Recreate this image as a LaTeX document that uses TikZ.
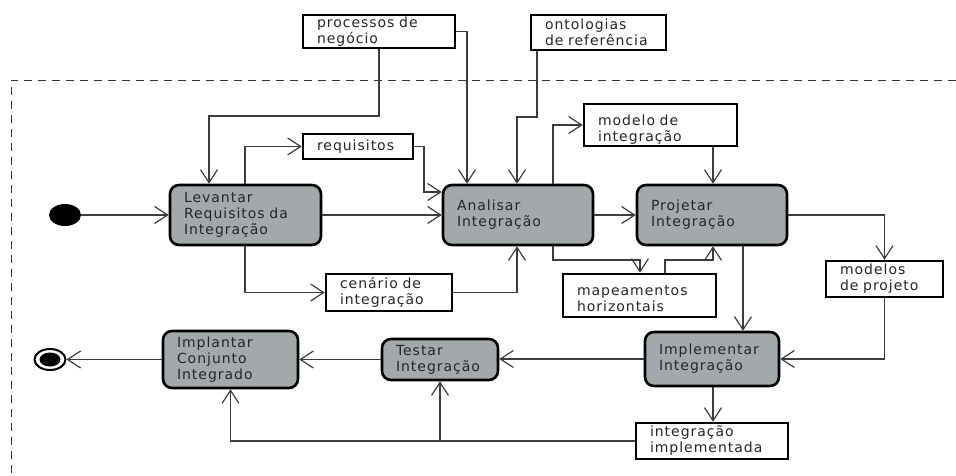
\documentclass[tikz,border=0pt]{standalone}
\usepackage{fontspec}
\setmainfont[LetterSpace=7]{DejaVu Sans}
\usetikzlibrary{arrows.meta,shapes.geometric}
\definecolor{actgrey}{RGB}{163,169,171}
\definecolor{wire}{RGB}{60,60,60}
\begin{document}
\begin{tikzpicture}[x=1pt,y=-1pt,
  font=\fontsize{14}{16}\selectfont,
  base/.style={line width=2.6pt, draw=black, inner xsep=14pt, inner ysep=0pt,
               align=left, text=black!85},
  act/.style={base, fill=actgrey, rounded corners=9pt},
  obj/.style={base, fill=white},
  raised/.style={text depth=10pt},
  flow/.style={draw=wire, line width=1.2pt,
               -{Straight Barb[length=13pt,width=17pt]}},
  frame/.style={draw=black!80, line width=1pt, dash pattern=on 8pt off 6pt}]

\useasboundingbox (0,0) rectangle (956,475);

% activity region
\draw[frame] (956,80) -- (11,80) -- (11,480);

% initial and final states
\node[ellipse, fill=black, minimum width=32pt, minimum height=22pt, inner sep=0pt] (start) at (65,215) {};
\node[ellipse, draw=black, line width=2pt, fill=white, minimum width=31pt, minimum height=21pt, inner sep=0pt] (stop) at (50,359.5) {};
\fill[black] (stop.center) ellipse (10.5pt and 7pt);

% object nodes
\node[obj, text width=124pt, minimum height=33pt] (proc) at (379,31.5) {processos de\\negócio};
\node[obj, text width=107pt, minimum height=35pt] (onto) at (598.5,32.5) {ontologias\\de referência};
\node[obj, text width=82pt, minimum height=25pt] (req) at (358,146.5) {requisitos};
\node[obj, raised, text width=125pt, minimum height=42pt] (mod) at (660.5,125) {modelo de\\integração};
\node[obj, text width=98pt, minimum height=37pt] (cen) at (389,292.5) {cenário de\\integração};
\node[obj, raised, text width=125pt, minimum height=43pt] (map) at (639.5,295.5) {mapeamentos\\horizontais};
\node[obj, text width=89pt, minimum height=36pt] (mods) at (884.5,279) {modelos\\de projeto};
\node[obj, text width=124pt, minimum height=36pt] (intimp) at (712,441) {integração\\implementada};

% activity nodes
\node[act, text width=123pt, minimum height=60pt] (lev) at (245.5,215) {Levantar\\Requisitos da\\Integração};
\node[act, text width=122pt, minimum height=60pt] (ana) at (518,215) {Analisar\\Integração};
\node[act, text width=122pt, minimum height=60pt] (proj) at (712,215) {Projetar\\Integração};
\node[act, text width=106pt, minimum height=54pt] (impl) at (712,359) {Implementar\\Integração};
\node[act, text width=88pt, minimum height=41pt] (test) at (440,359.5) {Testar\\Integração};
\node[act, text width=107pt, minimum height=57pt] (impt) at (230.5,359.5) {Implantar\\Conjunto\\Integrado};

% flows
\draw[flow] (start.east) -- (lev.west);
\draw[flow] (proc.south) |- (209,116) -- (209,0 |- lev.north);
\draw[flow] (proc.east) -| (467,0 |- ana.north);
\draw[flow] (245,0 |- lev.north) |- (req.west);
\draw[flow] (req.east) -| (424,192) -- (ana.west |- 0,192);
\draw[flow] (lev.east) -- (ana.west);
\draw[flow] (537,0 |- onto.south) |- (517,117) -- (517,0 |- ana.north);
\draw[flow] (553,0 |- ana.north) |- (mod.west);
\draw[flow] (713,0 |- mod.south) -- (713,0 |- proj.north);
\draw[flow] (ana.east) -- (proj.west);
\draw[flow] (proj.east) -| (mods.north);
\draw[flow] (245,0 |- lev.south) |- (cen.west);
\draw[flow] (cen.east) -| (517,0 |- ana.south);
\draw[flow] (553,0 |- ana.south) |- (640,260) -- (640,0 |- map.north);
\draw[flow] (665,0 |- map.north) |- (713,260) -- (713,0 |- proj.south);
\draw[flow] (743,0 |- proj.south) -- (743,0 |- impl.north);
\draw[flow] (mods.south) |- (impl.east);
\draw[flow] (impl.west) -- (impl.west -| test.east);
\draw[flow] (test.west) -- (impt.east);
\draw[flow] (impt.west) -- (stop.east);
\draw[flow] (713,0 |- impl.south) -- (713,0 |- intimp.north);
\draw[flow] (intimp.west) -| (impt.south);
\draw[flow] (intimp.west -| test.south) -- (test.south);
\end{tikzpicture}
\end{document}
